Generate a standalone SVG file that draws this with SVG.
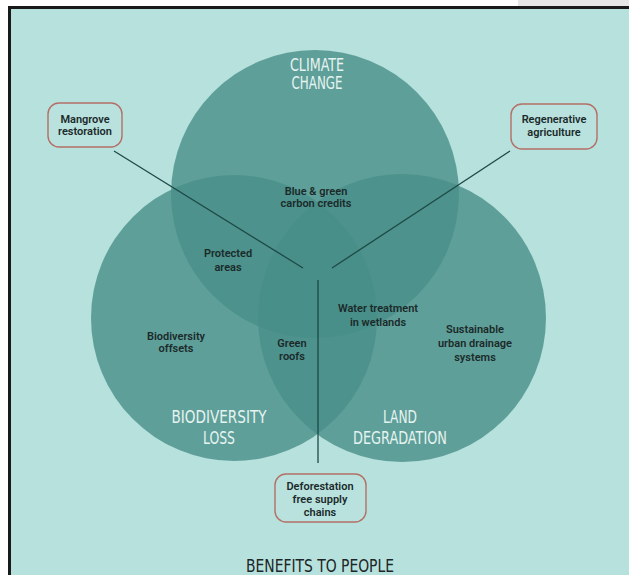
<svg xmlns="http://www.w3.org/2000/svg" width="629" height="575" viewBox="0 0 629 575">
  <style>
    .set { fill: #488f88; fill-opacity: 0.8; }
    .head { font-family: "DejaVu Sans", "Liberation Sans", sans-serif; font-stretch: condensed; font-size: 17px; fill: #e6f4f1; text-anchor: middle; }
    .lbl { font-family: Roboto, "Liberation Sans", sans-serif; font-weight: 600; font-size: 11px; fill: #1b2a2a; text-anchor: middle; }
    .box { fill: #b9e2de; stroke: #b46f66; stroke-width: 1.4; }
    .link { stroke: #1d4a46; stroke-width: 1.3; fill: none; }
  </style>

  <!-- page backdrop and frame -->
  <rect x="0" y="0" width="629" height="575" fill="#ffffff"/>
  <rect x="518" y="0" width="111" height="7" fill="#e6e6e6"/>
  <rect x="8" y="6" width="621" height="569" fill="#1a1a1a"/>
  <rect x="11" y="9" width="618" height="566" fill="#b7e1dd"/>

  <!-- three overlapping sets -->
  <g id="climate-change">
    <circle class="set" cx="315" cy="194" r="144"/>
    <text class="head" x="317" y="71" textLength="54" lengthAdjust="spacingAndGlyphs">CLIMATE</text>
    <text class="head" x="317" y="89" textLength="51" lengthAdjust="spacingAndGlyphs">CHANGE</text>
  </g>
  <g id="biodiversity-loss">
    <circle class="set" cx="234" cy="318" r="143"/>
    <text class="head" x="219" y="423" textLength="95" lengthAdjust="spacingAndGlyphs">BIODIVERSITY</text>
    <text class="head" x="219" y="444" textLength="32" lengthAdjust="spacingAndGlyphs">LOSS</text>
  </g>
  <g id="land-degradation">
    <circle class="set" cx="402" cy="318" r="144"/>
    <text class="head" x="400" y="423" textLength="34" lengthAdjust="spacingAndGlyphs">LAND</text>
    <text class="head" x="400" y="444" textLength="94" lengthAdjust="spacingAndGlyphs">DEGRADATION</text>
  </g>

  <!-- region labels -->
  <g id="blue-green-carbon">
    <text class="lbl" x="316" y="194.5">Blue &amp; green</text>
    <text class="lbl" x="316" y="207">carbon credits</text>
  </g>
  <g id="protected-areas">
    <text class="lbl" x="228" y="257">Protected</text>
    <text class="lbl" x="228" y="270.5">areas</text>
  </g>
  <g id="biodiversity-offsets">
    <text class="lbl" x="176" y="339.5">Biodiversity</text>
    <text class="lbl" x="176" y="352">offsets</text>
  </g>
  <g id="green-roofs">
    <text class="lbl" x="292" y="347">Green</text>
    <text class="lbl" x="292" y="360">roofs</text>
  </g>
  <g id="water-treatment">
    <text class="lbl" x="378" y="311.5">Water treatment</text>
    <text class="lbl" x="378" y="325.5">in wetlands</text>
  </g>
  <g id="urban-drainage">
    <text class="lbl" x="475" y="333">Sustainable</text>
    <text class="lbl" x="475" y="347">urban drainage</text>
    <text class="lbl" x="475" y="361">systems</text>
  </g>

  <!-- connectors -->
  <g id="connectors">
    <line class="link" x1="114" y1="151" x2="303" y2="268"/>
    <line class="link" x1="510" y1="151" x2="332" y2="268"/>
    <line class="link" x1="318" y1="280" x2="318" y2="463"/>
  </g>

  <!-- callout boxes -->
  <g id="mangrove-restoration">
    <rect class="box" x="48" y="103" width="74" height="44" rx="11"/>
    <text class="lbl" x="85" y="122.5">Mangrove</text>
    <text class="lbl" x="85" y="135">restoration</text>
  </g>
  <g id="regenerative-agriculture">
    <rect class="box" x="511" y="104" width="86" height="45" rx="11"/>
    <text class="lbl" x="554" y="123">Regenerative</text>
    <text class="lbl" x="554" y="136">agriculture</text>
  </g>
  <g id="deforestation-free">
    <rect class="box" x="275" y="474" width="91" height="48" rx="11"/>
    <text class="lbl" x="320" y="490">Deforestation</text>
    <text class="lbl" x="320" y="503">free supply</text>
    <text class="lbl" x="320" y="516">chains</text>
  </g>

  <g id="benefits-to-people">
    <text class="head" x="320" y="572" style="fill:#1c2626;font-size:17px" textLength="148" lengthAdjust="spacingAndGlyphs">BENEFITS TO PEOPLE</text>
  </g>
</svg>
